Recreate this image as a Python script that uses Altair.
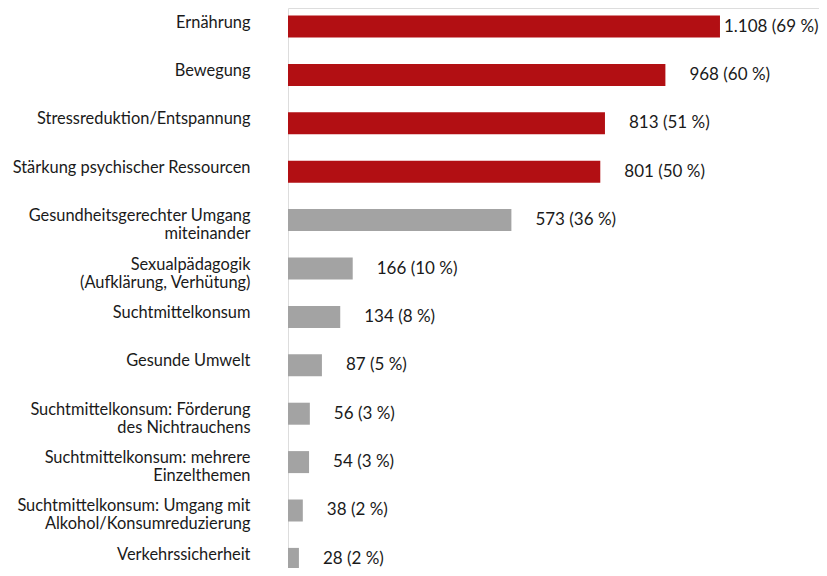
import altair as alt
import pandas as pd

themen = [
    "Ernährung",
    "Bewegung",
    "Stressreduktion/Entspannung",
    "Stärkung psychischer Ressourcen",
    "Gesundheitsgerechter Umgang\nmiteinander",
    "Sexualpädagogik\n(Aufklärung, Verhütung)",
    "Suchtmittelkonsum",
    "Gesunde Umwelt",
    "Suchtmittelkonsum: Förderung\ndes Nichtrauchens",
    "Suchtmittelkonsum: mehrere\nEinzelthemen",
    "Suchtmittelkonsum: Umgang mit\nAlkohol/Konsumreduzierung",
    "Verkehrssicherheit",
]
anzahl = [1108, 968, 813, 801, 573, 166, 134, 87, 56, 54, 38, 28]
prozent = [69, 60, 51, 50, 36, 10, 8, 5, 3, 3, 2, 2]
top_n = 4


def de_num(n):
    return f"{n:,}".replace(",", ".")


df = pd.DataFrame({
    "thema": themen,
    "anzahl": anzahl,
    "prozent": prozent,
})
df["rang"] = range(len(df))
df["top"] = df["rang"] < top_n
df["label"] = [f"{de_num(a)} ({p} %)" for a, p in zip(anzahl, prozent)]

FONT = "Lato"
RED = "#B20F13"
GRAY = "#A3A3A3"

y_enc = alt.Y(
    "thema:N",
    sort=themen,
    title=None,
    scale=alt.Scale(range=[-5.7, 575.1], paddingInner=0.54545, paddingOuter=0.272727),
    axis=alt.Axis(
        domain=False,
        ticks=False,
        grid=False,
        labelPadding=38,
        labelFont=FONT,
        labelFontSize=16.4,
        labelColor="#1a1a1a",
        labelBaseline="top",
        labelOffset=-12,
        labelLineHeight=18,
        labelLimit=400,
        labelExpr="split(datum.label, '\\n')",
    ),
)
x_enc = alt.X(
    "anzahl:Q",
    title=None,
    scale=alt.Scale(domain=[0, 1362], nice=False, zero=True),
    axis=None,
)

base = alt.Chart(df)

bars = base.mark_bar().encode(
    y=y_enc,
    x=x_enc,
    color=alt.condition("datum.top", alt.value(RED), alt.value(GRAY)),
)

text_first = base.transform_filter("datum.rang == 0").mark_text(
    align="left", baseline="middle", dx=4, font=FONT, fontSize=17, color="#1a1a1a"
).encode(y=alt.Y("thema:N", sort=themen), x="anzahl:Q", text="label:N")

text_rest = base.transform_filter("datum.rang > 0").mark_text(
    align="left", baseline="middle", dx=24, font=FONT, fontSize=17, color="#1a1a1a"
).encode(y=alt.Y("thema:N", sort=themen), x="anzahl:Q", text="label:N")

chart = (
    alt.layer(bars, text_first, text_rest)
    .properties(
        width=531,
        height=560,
        autosize=alt.AutoSizeParams(type="none"),
        padding={"left": 280, "top": 0, "right": 0, "bottom": 0},
    )
    .configure_view(stroke=None)
    .configure(background="white")
)

chart.save("out.html", embed_options={"renderer": "svg", "actions": False})
